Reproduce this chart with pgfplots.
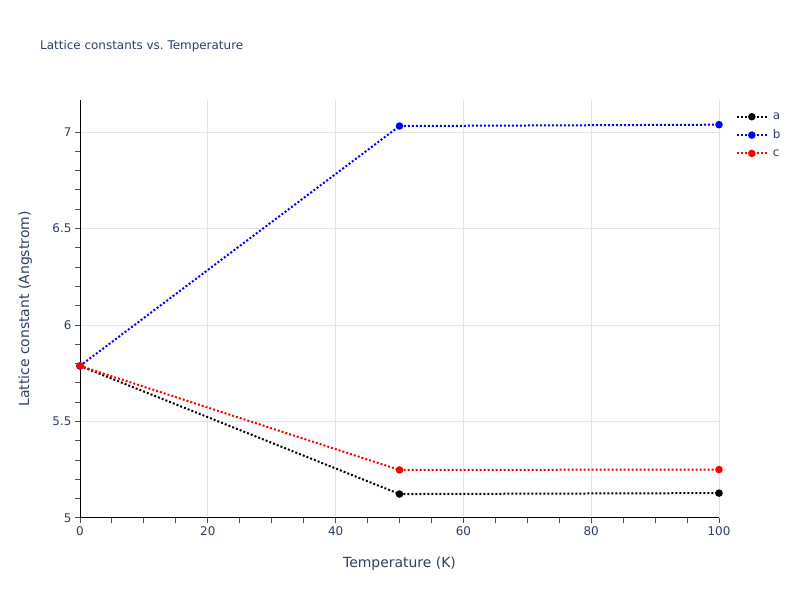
\documentclass[border=0pt]{standalone}
\usepackage{pgfplots}
\pgfplotsset{compat=1.18}
\usepackage{fontspec}
\setmainfont{DejaVu Sans}
\definecolor{titlecol}{HTML}{2A3F5F}
\definecolor{gridcol}{HTML}{E3E3E3}
\begin{document}
\begin{tikzpicture}[x=1bp,y=1bp]
\path[use as bounding box] (0,0) rectangle (800,600);
\node[anchor=base west, font=\fontsize{12}{14}\selectfont, text=titlecol, inner sep=0] at (40,550) {Lattice constants vs.\ Temperature};
\begin{axis}[
  at={(80bp,82bp)}, anchor=south west,
  scale only axis, width=639bp, height=418bp,
  xmin=0, xmax=100, ymin=5, ymax=7.166,
  axis lines*=left,
  axis line style={black, line width=1bp},
  tick align=outside,
  xtick={0,20,40,60,80,100},
  ytick={5,5.5,6,6.5,7},
  yticklabels={5,5.5,6,6.5,7},
  minor x tick num=3, minor y tick num=4,
  major tick length=5bp, minor tick length=5bp,
  tick style={black!70, line width=1bp},
  grid=major,
  major grid style={gridcol, line width=1bp},
  ticklabel style={font=\fontsize{12}{14}\selectfont, text=titlecol},
  /pgf/number format/assume math mode=true,
  xlabel={Temperature (K)},
  ylabel={Lattice constant (Angstrom)},
  label style={font=\fontsize{14}{16}\selectfont, text=titlecol},
  xlabel style={at={(axis description cs:0.5,0)}, anchor=base, yshift=-50bp},
  ylabel style={at={(axis description cs:0,0.5)}, anchor=base, yshift=51bp},
  every axis plot/.append style={line width=2bp, dash pattern=on 2bp off 2bp, mark=*, mark size=2.7bp, mark options={solid}},
  legend image code/.code={\draw[mark repeat=2, mark phase=2, #1] plot coordinates {(0bp,0bp) (15bp,0bp) (30bp,0bp)};},
  legend style={at={(1.026,0.975)}, anchor=north west, draw=none, fill=none,
    font=\fontsize{12}{14}\selectfont, text=titlecol, row sep=5bp, inner sep=0pt,
    nodes={inner xsep=5bp}},
  legend cell align=left,
]
\addplot[black] coordinates {(0,5.788) (50,5.124) (100,5.129)};
\addlegendentry{a}
\addplot[blue] coordinates {(0,5.788) (50,7.031) (100,7.038)};
\addlegendentry{b}
\addplot[red] coordinates {(0,5.788) (50,5.249) (100,5.251)};
\addlegendentry{c}
\end{axis}
\end{tikzpicture}
\end{document}
